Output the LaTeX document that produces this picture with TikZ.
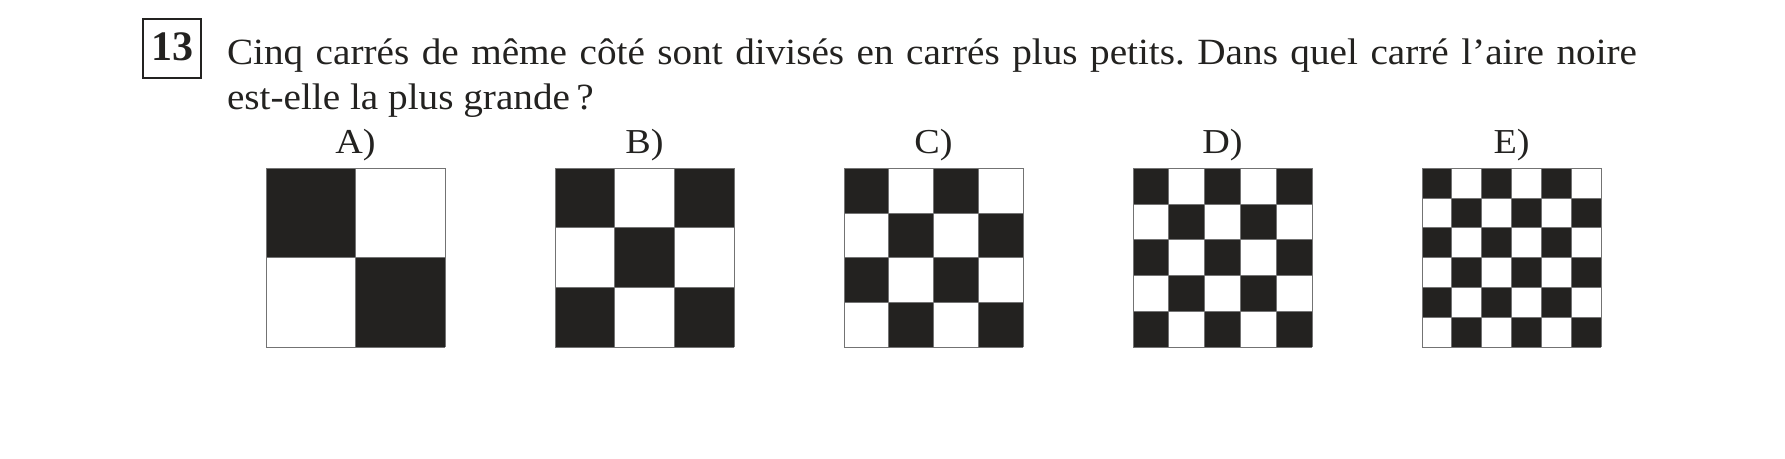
\documentclass[tikz,border=0pt]{standalone}
\usepackage{fontspec}
\setmainfont{Liberation Serif}
\newfontfamily\widefont[FakeStretch=1.06]{Liberation Serif}
\newfontfamily\labfont[FakeStretch=1.09]{Liberation Serif}
\definecolor{ink}{RGB}{35,34,32}
\definecolor{edge}{RGB}{115,115,115}
\begin{document}
\frenchspacing
\begin{tikzpicture}[x=1pt,y=-1pt,
  txt/.style={inner sep=0pt,outer sep=0pt,anchor=base west,font=\widefont\fontsize{37}{44}\selectfont,text=ink},
  lab/.style={inner sep=0pt,outer sep=0pt,anchor=base,font=\labfont\fontsize{35}{42}\selectfont,text=ink},
  gridline/.style={draw=edge,line width=1pt},
  numbox/.style={draw=ink,line width=1.3pt,minimum width=58pt,minimum height=59pt,inner sep=0pt}]
\useasboundingbox (0,0) rectangle (1785,458);
\node[numbox] (num) at (172,48.5) {};
\node[anchor=base,inner sep=0pt,font=\fontsize{42}{50}\selectfont\bfseries,text=ink] (numtxt) at (172.5,60.7) {13};
\node[txt] (l1) at (227,64) {\makebox[1410pt][s]{Cinq carrés de même côté sont divisés en carrés plus petits. Dans quel carré l’aire noire}};
\node[txt] (l2) at (227,109) {est-elle la plus grande\,?};
\foreach \n/\lab [count=\k from 0] in {2/A,3/B,4/C,5/D,6/E}{
  \pgfmathsetmacro\xl{266+289*\k}
  \pgfmathsetmacro\c{179/\n}
  \node[lab] (lab\lab) at (\xl+89.5,153.3) {\lab)};
  \foreach \i in {1,...,\n}{
    \foreach \j in {1,...,\n}{
      \pgfmathtruncatemacro\pp{mod(\i+\j,2)}
      \ifnum\pp=0
        \fill[ink] (\xl+\i*\c-\c,168.3+\j*\c-\c) rectangle ++(\c,\c);
      \fi
    }
  }
  \foreach \m in {0,...,\n}{
    \draw[gridline] (\xl+\m*\c,168.3) -- ++(0,179);
    \draw[gridline] (\xl,168.3+\m*\c) -- ++(179,0);
  }
}
\end{tikzpicture}
\end{document}
